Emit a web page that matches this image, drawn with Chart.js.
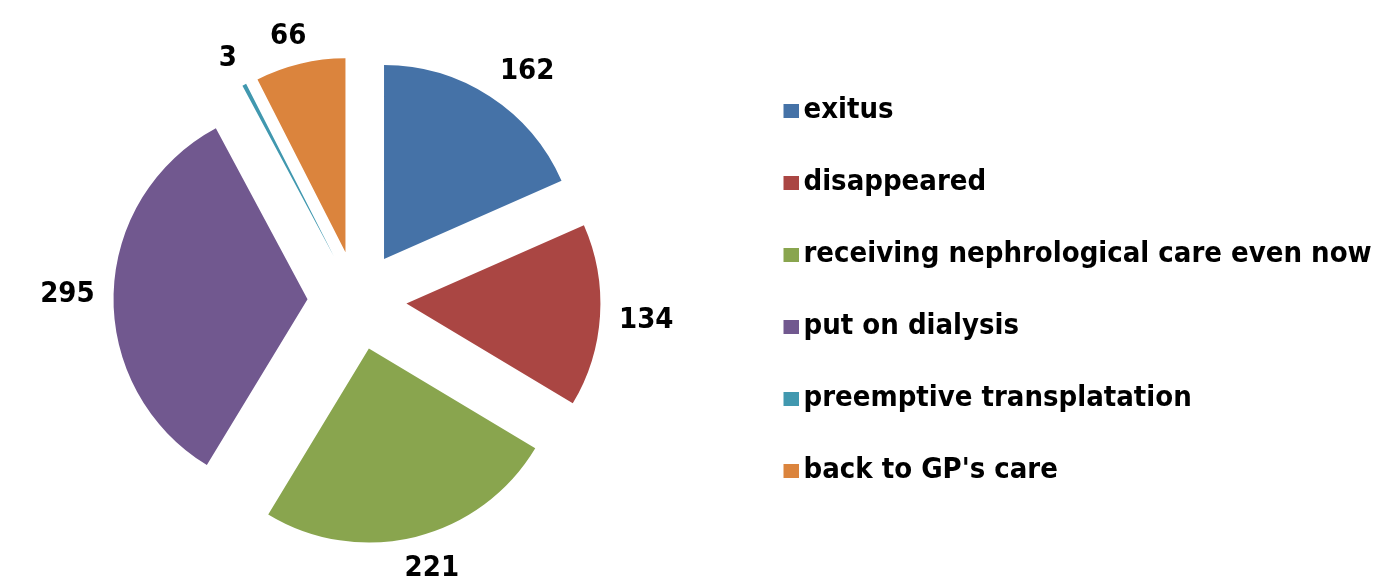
<!DOCTYPE html>
<html><head><meta charset="utf-8">
<script src="https://cdn.jsdelivr.net/npm/chart.js@4"></script>
<style>
html,body{margin:0;padding:0;background:#fff;overflow:hidden;width:1394px;height:583px;}
#wrap{position:absolute;left:-17px;top:0;width:1411px;height:583px;}
</style></head><body>
<div id="wrap"><canvas id="c" width="1411" height="583"></canvas></div>
<script>
const categories = ['exitus', 'disappeared', 'receiving nephrological care even now', 'put on dialysis', 'preemptive transplatation', "back to GP's care"];
const patientCounts = [162, 134, 221, 295, 3, 66];
const sliceColors = ['#4572A7', '#AA4643', '#89A54E', '#71588F', '#4198AF', '#DB843D'];

const FONT_FAMILY = '"DejaVu Sans Condensed", "DejaVu Sans", sans-serif';
const FONT_SIZE = 29;
const PIE_RADIUS = 194;
const EXPLODE = 49.5;
const LABEL_GAP = 19;

const mctx = document.createElement('canvas').getContext('2d');
mctx.font = 'bold ' + FONT_SIZE + 'px ' + FONT_FAMILY;
const maxTextW = Math.max(...categories.map(c => mctx.measureText(c).width));
const LEG_PAD = 72 - FONT_SIZE;
const padRight = 1411 - 748 - (LEG_PAD + 15 + FONT_SIZE / 2 + maxTextW + 10);

function makeSwatch(color) {
  const cv = document.createElement('canvas');
  const gap = 5, sw = 15, boxW = 15;
  const w = 2 * (boxW + FONT_SIZE / 2 - gap) - boxW;
  cv.width = Math.round(w); cv.height = 14;
  const c = cv.getContext('2d');
  c.fillStyle = color;
  c.fillRect(cv.width - sw, 0, sw, 14);
  return cv;
}

// Explode every slice outward along its own bisector (like Excel's exploded pie)
const explodeSlices = {
  id: 'explodeSlices',
  afterDatasetUpdate(chart, args) {
    const meta = chart.getDatasetMeta(args.index);
    meta.data.forEach(arc => {
      const mid = (arc.startAngle + arc.endAngle) / 2;
      arc.x += Math.cos(mid) * EXPLODE;
      arc.y += Math.sin(mid) * EXPLODE;
    });
  }
};

const clamp = v => Math.max(-1, Math.min(1, v));

const outsideLabels = {
  id: 'outsideLabels',
  afterDatasetsDraw(chart) {
    const ctx = chart.ctx;
    const meta = chart.getDatasetMeta(0);
    ctx.save();
    ctx.font = 'bold ' + FONT_SIZE + 'px ' + FONT_FAMILY;
    ctx.fillStyle = '#000';
    ctx.textAlign = 'center';
    ctx.textBaseline = 'middle';
    meta.data.forEach((arc, i) => {
      const p = arc.getProps(['x', 'y', 'startAngle', 'endAngle', 'outerRadius'], true);
      const mid = (p.startAngle + p.endAngle) / 2;
      const dx = Math.cos(mid), dy = Math.sin(mid);
      const d = p.outerRadius + LABEL_GAP;
      const txt = String(chart.data.datasets[0].data[i]);
      const w = ctx.measureText(txt).width, h = 22;
      const sx = clamp(dx * 1.8), sy = clamp(dy * 1.8);
      ctx.fillText(txt, p.x + dx * d + sx * w / 2, p.y + dy * d + sy * h / 2 + 2);
    });
    ctx.restore();
  }
};

new Chart(document.getElementById('c'), {
  type: 'pie',
  data: {
    labels: categories,
    datasets: [{
      data: patientCounts,
      backgroundColor: sliceColors,
      borderWidth: 0,
      radius: PIE_RADIUS
    }]
  },
  options: {
    responsive: false,
    animation: false,
    layout: { padding: { top: 18, right: padRight, left: 0, bottom: 0 } },
    plugins: {
      tooltip: { enabled: false },
      legend: {
        position: 'right',
        align: 'start',
        title: { display: true, text: '', font: { size: 12, lineHeight: 1.2 }, padding: { top: 0, bottom: 20.6 } },
        labels: {
          usePointStyle: true,
          pointStyleWidth: 15,
          boxHeight: 14,
          padding: LEG_PAD,
          color: '#000',
          font: { family: FONT_FAMILY, size: FONT_SIZE, weight: 'bold' },
          generateLabels(chart) {
            const items = Chart.overrides.pie.plugins.legend.labels.generateLabels(chart);
            return items.map((it, i) => Object.assign({}, it, { pointStyle: makeSwatch(sliceColors[i]), fontColor: '#000' }));
          }
        }
      }
    }
  },
  plugins: [explodeSlices, outsideLabels]
});
</script>
</body></html>
